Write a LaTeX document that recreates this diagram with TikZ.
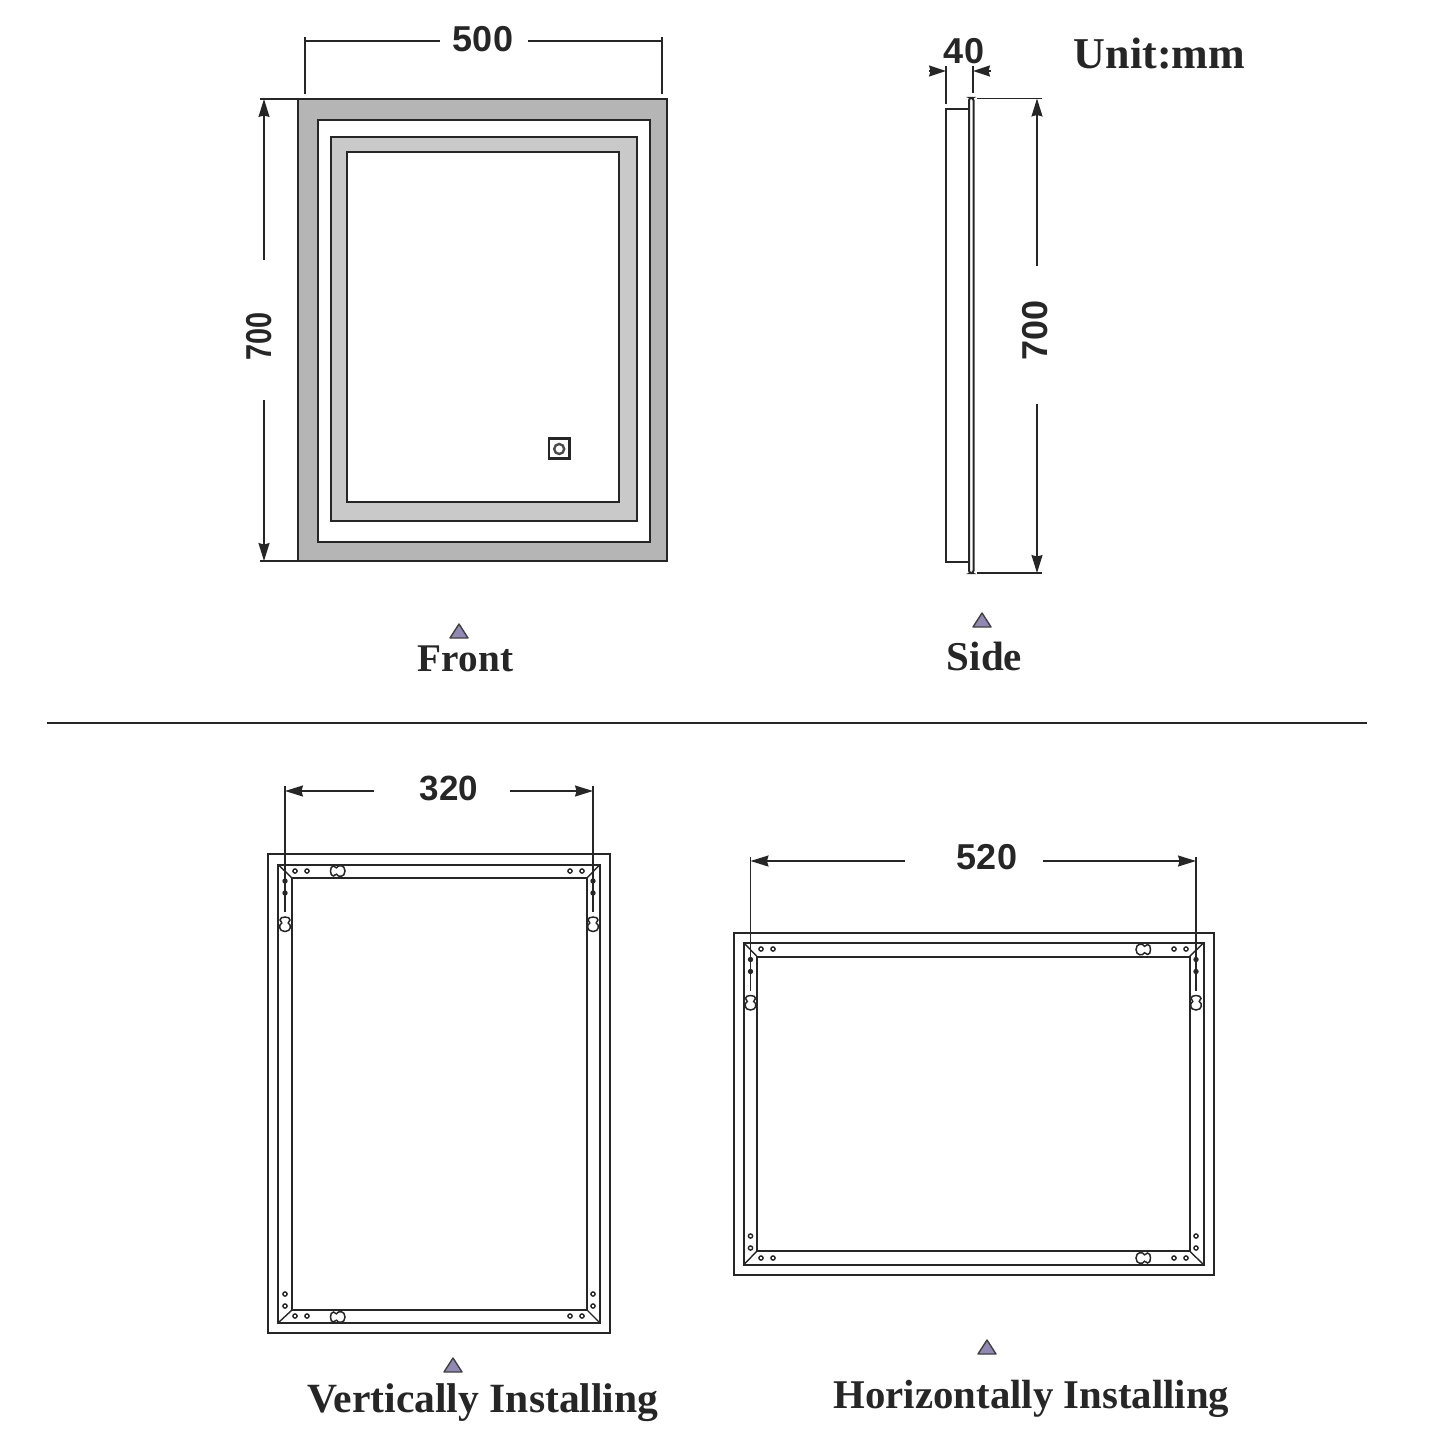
\documentclass[tikz,border=0pt]{standalone}
\usepackage{graphicx}
\usepackage{fontspec}
\setmainfont{Liberation Serif}
\newfontfamily\dimfont{Liberation Sans}[Scale=1]
\usetikzlibrary{arrows.meta}
\definecolor{triviolet}{HTML}{9189B4}
\tikzset{
  x=0.5pt,y=-0.5pt,
  ln/.style={line width=1pt,draw=black!85},
  thin ln/.style={line width=0.7pt,draw=black!85},
  dimline/.style={line width=0.75pt,draw=black!85},
  dimarrow/.style={dimline,-{Stealth[length=9pt,width=5.5pt,inset=0.8pt]}},
  dimtext/.style={font=\dimfont\bfseries\fontsize{18}{18}\selectfont,text=black!85,inner sep=0pt},
  lab/.style={text=black!85,inner sep=0pt},
  tri/.style={fill=triviolet,draw=black!75,line width=0.7pt,line join=round},
}
\newcommand{\labfont}[1]{\bfseries\fontsize{#1}{#1}\selectfont}
\newcommand{\tri}[2]{\path[tri] (#1-9,#2+7) -- (#1,#2-7) -- (#1+9,#2+7) -- cycle;}
\newcommand{\hole}[2]{\draw[thin ln,fill=white] (#1,#2) circle[radius=2.1];}
\newcommand{\dotp}[2]{\fill[black!85] (#1,#2) circle[radius=2.7];}
% keyhole: big lobe toward +x in local frame
\newcommand{\keyhole}[3]{\draw[thin ln,line width=0.75pt,fill=white,rotate around={#3:(#1,#2)}]
  (#1-7.5,#2) .. controls (#1-7.5,#2-3) and (#1-6.5,#2-5) .. (#1-4.5,#2-5)
  .. controls (#1-3,#2-5) and (#1-3,#2-3) .. (#1-1.5,#2-3.2)
  .. controls (#1,#2-6.5) and (#1+7,#2-6.5) .. (#1+7,#2)
  .. controls (#1+7,#2+6.5) and (#1,#2+6.5) .. (#1-1.5,#2+3.2)
  .. controls (#1-3,#2+3) and (#1-3,#2+5) .. (#1-4.5,#2+5)
  .. controls (#1-6.5,#2+5) and (#1-7.5,#2+3) .. (#1-7.5,#2) -- cycle;}
\begin{document}
\begin{tikzpicture}
\useasboundingbox (0,0) rectangle (1445,1445);
% ---------- Front
\path[fill=black!29] (298,99) rectangle (667,561);
\draw[ln,line width=0.8pt] (298,99) rectangle (667,561);
\draw[ln,fill=white] (318,120) rectangle (649.5,541.5);
\draw[ln,fill=black!21] (331,137) rectangle (637,521);
\draw[ln,fill=white] (347,152) rectangle (619,502);
\draw[ln,line width=1.2pt,fill=white] (549,438.5) rectangle (569.5,458.5);
\draw[line width=1.2pt,draw=black!70] (559.2,449) circle[radius=5];
% 500
\coordinate (a1t) at (305,37); \coordinate (a1b) at (305,94);
\coordinate (a2t) at (662,37); \coordinate (a2b) at (662,94);
\draw[dimline] (a1t) -- (a1b); \draw[dimline] (a2t) -- (a2b);
\node[dimtext] (d500) at (483,39.5) {500};
\draw[dimline] (305,41) -- (440,41); \draw[dimline] (528,41) -- (662,41);
% 700 front
\coordinate (b1l) at (260,99); \coordinate (b1r) at (298,99);
\coordinate (b2l) at (260,561); \coordinate (b2r) at (298,561);
\draw[dimline] (b1l) -- (b1r); \draw[dimline] (b2l) -- (b2r);
\node[dimtext,rotate=90] (d700a) at (259,336.5) {\scalebox{0.8}[1]{700}};
\draw[dimarrow] (264,260) -- (264,99);
\draw[dimarrow] (264,400) -- (264,561);
% ---------- Side
\draw[ln] (971,109) -- (946,109) -- (946,562) -- (971,562);
\draw[ln,fill=white,rounded corners=1.2pt] (969,98) rectangle (973.5,573);
\coordinate (c1t) at (946,66); \coordinate (c1b) at (946,104);
\coordinate (c2t) at (973,66); \coordinate (c2b) at (973,93);
\draw[dimline] (c1t) -- (c1b); \draw[dimline] (c2t) -- (c2b);
\draw[dimline,-{Stealth[length=8.5pt,width=5.5pt,inset=0.8pt]}] (929,71) -- (946,71);
\draw[dimline,-{Stealth[length=8.5pt,width=5.5pt,inset=0.8pt]}] (991,71) -- (973,71);
\node[dimtext] (d40) at (964,51) {40};
\node[lab,font=\labfont{22}] (unit) at (1159.5,53.5) {Unit:mm};
\coordinate (e1l) at (977,98.5); \coordinate (e1r) at (1042,98.5);
\coordinate (e2l) at (977,573); \coordinate (e2r) at (1042,573);
\draw[dimline] (e1l) -- (e1r); \draw[dimline] (e2l) -- (e2r);
\node[dimtext,rotate=90] (d700b) at (1035,330) {700};
\draw[dimarrow] (1037,266) -- (1037,98.5);
\draw[dimarrow] (1037,404) -- (1037,573);
% ---------- labels
\tri{459}{631}\tri{982}{620}\tri{453}{1365}\tri{987}{1347}
\node[lab,font=\labfont{19.6}] (front) at (465.5,659) {Front};
\node[lab,font=\labfont{20.5}] (side) at (984.5,656.5) {Side};
\node[lab,font=\labfont{20.8}] (vert) at (483,1403) {Vertically Installing};
\node[lab,font=\labfont{20.4}] (horz) at (1031.5,1399) {Horizontally Installing};
% divider
\draw[dimline] (47,723) -- (1367,723);
% ---------- Vertical back
\draw[ln] (268,854) rectangle (610,1333);
\draw[ln] (278,864.5) rectangle (600,1323);
\draw[ln] (292,878) rectangle (587,1310);
\draw[thin ln] (278,864.5) -- (292,878) (600,864.5) -- (587,878) (278,1323) -- (292,1310) (600,1323) -- (587,1310);
\draw[dimline] (285,786) -- (285,912); \draw[dimline] (593,786) -- (593,912);
\draw[dimarrow] (374,791) -- (285,791);
\draw[dimarrow] (510,791) -- (593,791);
\node[dimtext] (d320) at (449,788.5) {\fontsize{17.5}{17.5}\selectfont 320};
\foreach \x/\y in {295/871,307/871,570/871,582/871,285/1294,285/1306,295/1316,307/1316,570/1316,582/1316,593/1294,593/1306}{\hole{\x}{\y}}
\foreach \x in {285,593}{\dotp{\x}{881}\dotp{\x}{893}\keyhole{\x}{924.5}{-90}}
\keyhole{338}{871}{0}\keyhole{338}{1317}{0}
% ---------- Horizontal back
\draw[ln] (734,933) rectangle (1214,1275);
\draw[ln] (744,943) rectangle (1203.5,1264.5);
\draw[ln] (757,956.5) rectangle (1189.5,1251);
\draw[thin ln] (744,943) -- (757,956.5) (1203.5,943) -- (1189.5,956.5) (744,1264.5) -- (757,1251) (1203.5,1264.5) -- (1189.5,1251);
\draw[dimline] (750.5,857) -- (750.5,991); \draw[dimline] (1196,857) -- (1196,991);
\draw[dimarrow] (905,861) -- (750.5,861);
\draw[dimarrow] (1043,861) -- (1196,861);
\node[dimtext] (d520) at (987,857.5) {520};
\foreach \x/\y in {761/949,773/949,1174/949,1186/949,761/1258,773/1258,1174/1258,1186/1258,750.5/1236,750.5/1248,1196/1236,1196/1248}{\hole{\x}{\y}}
\foreach \x in {750.5,1196}{\dotp{\x}{959.5}\dotp{\x}{971.5}\keyhole{\x}{1003}{-90}}
\keyhole{1143}{949.5}{180}\keyhole{1143}{1258}{180}
\end{tikzpicture}
\end{document}
